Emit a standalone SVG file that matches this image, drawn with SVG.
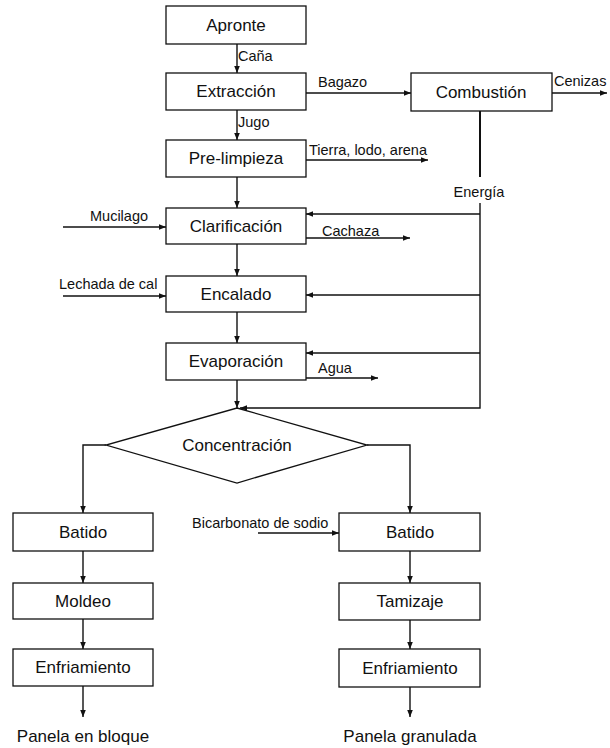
<svg xmlns="http://www.w3.org/2000/svg" width="610" height="748" viewBox="0 0 610 748">
<style>
.box{fill:#fff;stroke:#111;stroke-width:1.3}
.nt{font-family:"Liberation Sans",Arial,sans-serif;font-size:17px;fill:#111;text-anchor:middle}
.lt{font-family:"Liberation Sans",Arial,sans-serif;font-size:14.5px;fill:#111}
.c{fill:none;stroke:#111;stroke-width:1.4}
.a{marker-end:url(#ah)}
</style>
<defs>
<marker id="ah" viewBox="0 0 10 10" refX="10" refY="5" markerWidth="7" markerHeight="7" orient="auto" markerUnits="userSpaceOnUse">
<path d="M0,1 L10,5 L0,9 z" fill="#111"/>
</marker>
</defs>
<rect width="610" height="748" fill="#fff"/>
<g id="connectors">
<path class="c a" d="M237,44 V73"/>
<path class="c a" d="M237,110 V140"/>
<path class="c a" d="M237,177 V208"/>
<path class="c a" d="M237,244 V276"/>
<path class="c a" d="M237,312 V343"/>
<path class="c a" d="M237,380 V408"/>
<path class="c a" d="M306,93 H411"/>
<path class="c a" d="M552,93 H607"/>
<path class="c a" d="M306,160 H428"/>
<path class="c" d="M480,111 V177" style="stroke-width:2"/>
<path class="c a" d="M480,203 V408 H240"/>
<path class="c a" d="M480,214 H306"/>
<path class="c a" d="M480,295 H306"/>
<path class="c a" d="M480,353 H306"/>
<path class="c a" d="M63,227 H166"/>
<path class="c a" d="M306,238 H410"/>
<path class="c a" d="M63,296 H166"/>
<path class="c a" d="M306,378 H378"/>
<path class="c a" d="M106,445 H83 V513"/>
<path class="c a" d="M367,445 H410 V513"/>
<path class="c a" d="M258,533 H339"/>
<path class="c a" d="M83,551 V583"/>
<path class="c a" d="M83,619 V649"/>
<path class="c a" d="M83,686 V717"/>
<path class="c a" d="M410,551 V583"/>
<path class="c a" d="M410,620 V649"/>
<path class="c a" d="M410,687 V717"/>
<text class="lt" x="238" y="61">Caña</text>
<text class="lt" x="238" y="127">Jugo</text>
<text class="lt" x="318" y="87">Bagazo</text>
<text class="lt" x="554" y="86">Cenizas</text>
<text class="lt" x="309" y="155">Tierra, lodo, arena</text>
<text class="lt" x="479" y="197" text-anchor="middle">Energía</text>
<text class="lt" x="90" y="221">Mucilago</text>
<text class="lt" x="322" y="236">Cachaza</text>
<text class="lt" x="59" y="289">Lechada de cal</text>
<text class="lt" x="318" y="373">Agua</text>
<text class="lt" x="192" y="528">Bicarbonato de sodio</text>
</g>
<g id="apronte"><rect class="box" x="166" y="6" width="140" height="38"/><text class="nt" x="236" y="31">Apronte</text></g>
<g id="extraccion"><rect class="box" x="166" y="73" width="140" height="37"/><text class="nt" x="236" y="97">Extracción</text></g>
<g id="combustion"><rect class="box" x="411" y="73" width="141" height="38"/><text class="nt" x="481" y="98">Combustión</text></g>
<g id="prelimpieza"><rect class="box" x="166" y="140" width="140" height="37"/><text class="nt" x="236" y="164">Pre-limpieza</text></g>
<g id="clarificacion"><rect class="box" x="166" y="208" width="140" height="36"/><text class="nt" x="236" y="232">Clarificación</text></g>
<g id="encalado"><rect class="box" x="166" y="276" width="140" height="36"/><text class="nt" x="236" y="300">Encalado</text></g>
<g id="evaporacion"><rect class="box" x="166" y="343" width="140" height="37"/><text class="nt" x="236" y="367">Evaporación</text></g>
<g id="concentracion"><polygon class="box" points="237,408 367,445 237,483 106,445"/><text class="nt" x="237" y="451">Concentración</text></g>
<g id="batido1"><rect class="box" x="13" y="513" width="140" height="38"/><text class="nt" x="83" y="538">Batido</text></g>
<g id="moldeo"><rect class="box" x="13" y="583" width="140" height="36"/><text class="nt" x="83" y="607">Moldeo</text></g>
<g id="enfriamiento1"><rect class="box" x="13" y="649" width="140" height="37"/><text class="nt" x="83" y="673">Enfriamiento</text></g>
<g id="panela-bloque"><text class="nt" x="83" y="742">Panela en bloque</text></g>
<g id="batido2"><rect class="box" x="339" y="513" width="141" height="38"/><text class="nt" x="410" y="538">Batido</text></g>
<g id="tamizaje"><rect class="box" x="339" y="583" width="141" height="37"/><text class="nt" x="410" y="607">Tamizaje</text></g>
<g id="enfriamiento2"><rect class="box" x="339" y="649" width="141" height="38"/><text class="nt" x="410" y="674">Enfriamiento</text></g>
<g id="panela-granulada"><text class="nt" x="410" y="742">Panela granulada</text></g>
</svg>
